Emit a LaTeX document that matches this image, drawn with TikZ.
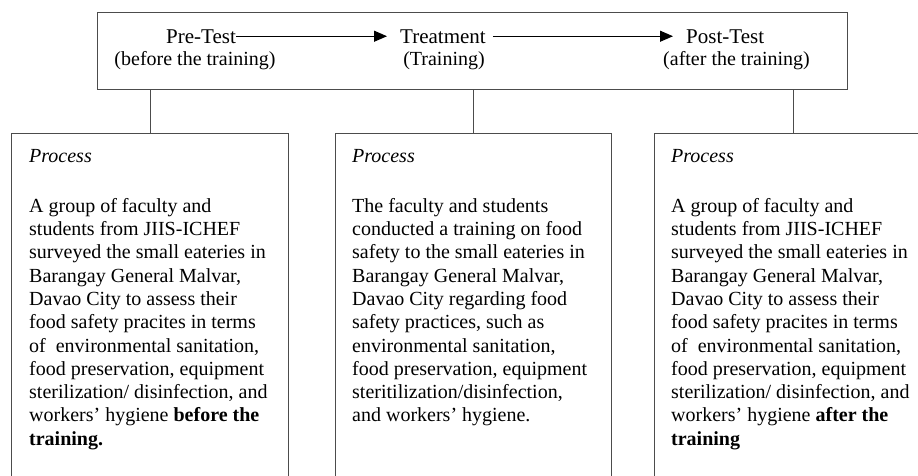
\documentclass[tikz,border=0pt]{standalone}
\usepackage{fontspec}
\setmainfont{Liberation Serif}
\usetikzlibrary{arrows.meta}
\begin{document}
\begin{tikzpicture}[x=1pt,y=-1pt,
  frame/.style={draw=black!70, line width=1pt},
  label/.style={inner sep=0pt, font=\fontsize{20}{23.3}\selectfont},
  title/.style={inner sep=0pt, font=\fontsize{21}{24}\selectfont, anchor=base west},
  note/.style={label, anchor=base},
  heading/.style={label, anchor=base west, font=\fontsize{20}{23.3}\selectfont\itshape},
  body/.style={label, align=left, anchor=north west},
  flow/.style={-{Triangle[length=13pt,width=11pt]}, line width=1pt, shorten >=13pt},
  link/.style={draw=black!70, line width=1pt}]
\useasboundingbox (0,0) rectangle (918,475);
\clip (0,0) rectangle (918,475);

% stage frame across the top
\node[frame, minimum width=750pt, minimum height=77pt, anchor=north west] (top) at (97,12) {};

\node[title] (pre) at (166,43) {Pre-Test};
\node[note] (preNote) at (195,65) {(before the training)};
\node[title] (treat) at (400,43) {Treatment};
\node[note] (treatNote) at (444,65) {(Training)};
\node[title] (post) at (686,43) {Post-Test};
\node[note] (postNote) at (736.5,65) {(after the training)};

\draw[flow] (pre.east) -- (treat.west);
\draw[flow, shorten <=7pt] (treat.east) -- (post.west);

% process boxes (open at the bottom edge)
\node[frame, minimum width=277pt, minimum height=360pt, anchor=north west] (stage1) at (11,133) {};
\node[frame, minimum width=276pt, minimum height=360pt, anchor=north west] (stage2) at (335,133) {};
\node[frame, minimum width=277pt, minimum height=360pt, anchor=north west] (stage3) at (654,133) {};

\draw[link] (top.south -| stage1.north) -- (stage1.north);
\draw[link] (top.south -| stage2.north) -- (stage2.north);
\draw[link] (top.south -| stage3.north) -- (stage3.north);

% box contents
\node[heading] (head1) at (29,162) {Process};
\node[heading] (head2) at (352,162) {Process};
\node[heading] (head3) at (671,162) {Process};

\node[body] (text1) at (29,195.7) {\strut A group of faculty and\\
students from JIIS-ICHEF\\
surveyed the small eateries in\\
Barangay General Malvar,\\
Davao City to assess their\\
food safety pracites in terms\\
of~ environmental sanitation,\\
food preservation, equipment\\
sterilization/ disinfection, and\\
workers’ hygiene \textbf{before the}\\
\textbf{training.}};

\node[body] (text2) at (352,195.7) {\strut The faculty and students\\
conducted a training on food\\
safety to the small eateries in\\
Barangay General Malvar,\\
Davao City regarding food\\
safety practices, such as\\
environmental sanitation,\\
food preservation, equipment\\
steritilization/disinfection,\\
and workers’ hygiene.};

\node[body] (text3) at (671,195.7) {\strut A group of faculty and\\
students from JIIS-ICHEF\\
surveyed the small eateries in\\
Barangay General Malvar,\\
Davao City to assess their\\
food safety pracites in terms\\
of~ environmental sanitation,\\
food preservation, equipment\\
sterilization/ disinfection, and\\
workers’ hygiene \textbf{after the}\\
\textbf{training}};
\end{tikzpicture}
\end{document}
